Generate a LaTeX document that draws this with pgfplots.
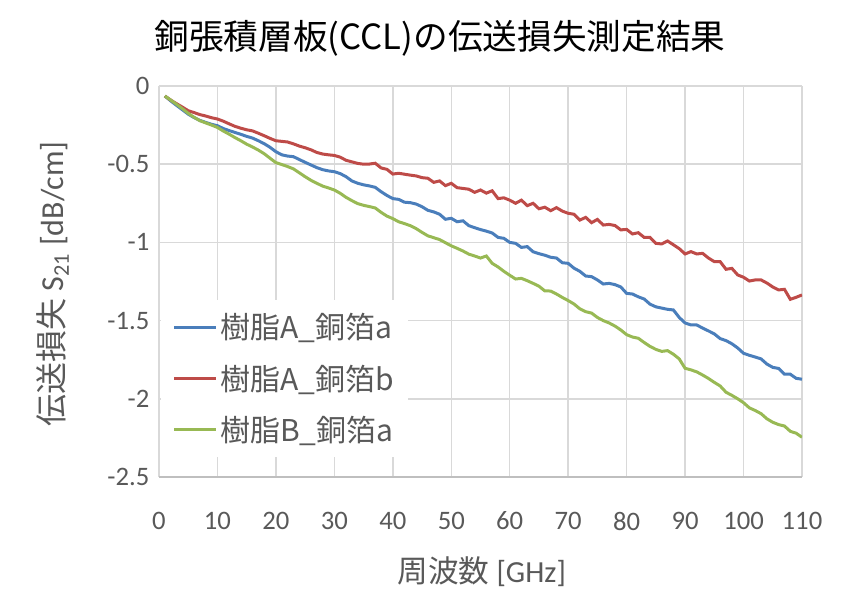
\documentclass[border=0pt]{standalone}
\usepackage{pgfplots}
\pgfplotsset{compat=1.18}
\usepackage{pgfplotstable}
\usepackage{fontspec}
\setmainfont{Carlito}
\newfontfamily\jp{Noto Sans CJK JP}
\definecolor{sblue}{HTML}{4A7EBB}
\definecolor{sred}{HTML}{BE4B48}
\definecolor{sgreen}{HTML}{98B954}
\definecolor{txt}{HTML}{595959}
\definecolor{gridc}{HTML}{D9D9D9}
\definecolor{axc}{HTML}{BFBFBF}

% f [GHz], loss S21 [dB/cm]
\pgfplotstableread{
f   Aa     Ab     Ba
1   -0.064 -0.064 -0.064
2   -0.095 -0.090 -0.090
3   -0.124 -0.113 -0.117
4   -0.152 -0.135 -0.145
5   -0.180 -0.158 -0.175
6   -0.202 -0.170 -0.200
7   -0.220 -0.183 -0.222
8   -0.233 -0.192 -0.236
9   -0.245 -0.203 -0.250
10  -0.254 -0.211 -0.265
11  -0.272 -0.225 -0.288
12  -0.285 -0.242 -0.308
13  -0.297 -0.258 -0.330
14  -0.309 -0.270 -0.350
15  -0.322 -0.280 -0.372
16  -0.333 -0.287 -0.390
17  -0.350 -0.302 -0.410
18  -0.369 -0.318 -0.433
19  -0.392 -0.335 -0.462
20  -0.420 -0.350 -0.490
21  -0.440 -0.354 -0.502
22  -0.448 -0.358 -0.515
23  -0.452 -0.370 -0.530
24  -0.470 -0.384 -0.555
25  -0.488 -0.395 -0.580
26  -0.505 -0.408 -0.603
27  -0.522 -0.425 -0.622
28  -0.535 -0.435 -0.640
29  -0.543 -0.440 -0.652
30  -0.548 -0.444 -0.665
31  -0.560 -0.455 -0.686
32  -0.580 -0.475 -0.712
33  -0.607 -0.485 -0.733
34  -0.622 -0.495 -0.752
35  -0.632 -0.500 -0.763
36  -0.639 -0.499 -0.771
37  -0.648 -0.494 -0.780
38  -0.676 -0.524 -0.808
39  -0.700 -0.533 -0.832
40  -0.720 -0.563 -0.848
41  -0.725 -0.558 -0.868
42  -0.743 -0.564 -0.880
43  -0.746 -0.570 -0.893
44  -0.755 -0.575 -0.912
45  -0.772 -0.586 -0.936
46  -0.795 -0.590 -0.958
47  -0.805 -0.616 -0.970
48  -0.820 -0.607 -0.982
49  -0.852 -0.637 -1.002
50  -0.846 -0.622 -1.022
51  -0.868 -0.650 -1.038
52  -0.862 -0.655 -1.055
53  -0.893 -0.660 -1.075
54  -0.906 -0.680 -1.087
55  -0.918 -0.665 -1.100
56  -0.928 -0.685 -1.087
57  -0.940 -0.670 -1.134
58  -0.968 -0.720 -1.157
59  -0.974 -0.715 -1.185
60  -1.000 -0.730 -1.210
61  -1.006 -0.750 -1.234
62  -1.032 -0.730 -1.230
63  -1.027 -0.765 -1.245
64  -1.060 -0.750 -1.262
65  -1.072 -0.785 -1.280
66  -1.082 -0.775 -1.310
67  -1.095 -0.797 -1.311
68  -1.100 -0.778 -1.330
69  -1.130 -0.800 -1.352
70  -1.134 -0.814 -1.372
71  -1.165 -0.820 -1.394
72  -1.185 -0.857 -1.425
73  -1.215 -0.840 -1.443
74  -1.219 -0.874 -1.452
75  -1.240 -0.853 -1.480
76  -1.266 -0.889 -1.500
77  -1.262 -0.885 -1.515
78  -1.270 -0.892 -1.535
79  -1.285 -0.920 -1.560
80  -1.326 -0.917 -1.590
81  -1.330 -0.946 -1.605
82  -1.348 -0.938 -1.613
83  -1.362 -0.968 -1.640
84  -1.395 -0.968 -1.665
85  -1.412 -1.006 -1.684
86  -1.420 -1.010 -1.697
87  -1.428 -0.991 -1.692
88  -1.432 -1.015 -1.715
89  -1.480 -1.040 -1.745
90  -1.515 -1.074 -1.805
91  -1.528 -1.059 -1.815
92  -1.528 -1.074 -1.828
93  -1.548 -1.070 -1.848
94  -1.566 -1.100 -1.870
95  -1.585 -1.123 -1.895
96  -1.615 -1.123 -1.918
97  -1.628 -1.172 -1.958
98  -1.648 -1.166 -1.978
99  -1.675 -1.208 -2.000
100 -1.709 -1.223 -2.025
101 -1.722 -1.247 -2.058
102 -1.733 -1.240 -2.075
103 -1.745 -1.240 -2.095
104 -1.778 -1.260 -2.128
105 -1.799 -1.285 -2.150
106 -1.806 -1.304 -2.165
107 -1.843 -1.300 -2.174
108 -1.843 -1.364 -2.208
109 -1.869 -1.351 -2.220
110 -1.875 -1.336 -2.246
}\losstable

\begin{document}
\begin{tikzpicture}
\begin{axis}[
    at={(0,0)}, anchor=south west,
    scale only axis,
    width=482.25pt, height=293.25pt,
    xmin=0, xmax=110, ymin=-2.5, ymax=0,
    xtick={0,10,...,110},
    xticklabels={0,10,20,30,40,50,60,70,80,90,100,110},
    ytick={-2.5,-2,-1.5,-1,-0.5,0},
    yticklabels={-2.5,-2,-1.5,-1,-0.5,0},
    major tick length=0pt,
    tick label style={font=\fontsize{20}{24}\selectfont, text=txt},
    xticklabel style={inner sep=0pt, yshift=-26pt},
    yticklabel style={inner sep=0pt, xshift=-7pt},
    grid=major,
    major grid style={gridc, line width=1.1pt},
    axis line style={draw=none},
    title={\jp 銅張積層板(CCL)の伝送損失測定結果},
    title style={at={(axis description cs:0.437,1)}, anchor=center, yshift=30pt,
        font=\fontsize{26}{30}\selectfont, text=black},
    xlabel={{\jp 周波数} [GHz]},
    ylabel={{\jp 伝送損失} S\textsubscript{21} [dB/cm]},
    every axis x label/.style={at={(axis description cs:0.502,-0.243)}, anchor=center,
        font=\fontsize{23}{27}\selectfont, text=txt},
    every axis y label/.style={at={(axis description cs:-0.165,0.494)}, anchor=center,
        rotate=90, font=\fontsize{24}{28}\selectfont, text=txt},
    legend cell align=left,
    legend image code/.code={\draw[#1, line width=2.25pt] (0pt,0pt) -- (31.5pt,0pt);},
    legend style={draw=none, fill=white, at={(axis description cs:0.002,0.453)},
        anchor=north west, font=\jp\fontsize{22.5}{26}\selectfont, text=txt,
        inner xsep=9pt, inner ysep=8pt, row sep=14pt},
    extra description/.code={\draw[axc, line width=1.1pt] (0,0) -- (1,0);},
]
\addplot[sblue, line width=2.25pt] table[x=f, y=Aa] {\losstable};
\addlegendentry{樹脂A\_銅箔a}
\addplot[sred, line width=2.25pt] table[x=f, y=Ab] {\losstable};
\addlegendentry{樹脂A\_銅箔b}
\addplot[sgreen, line width=2.25pt] table[x=f, y=Ba] {\losstable};
\addlegendentry{樹脂B\_銅箔a}
\end{axis}
\pgfresetboundingbox
\path[use as bounding box] (-119.25pt,-104.25pt) rectangle (518.25pt,357.75pt);
\end{tikzpicture}
\end{document}
